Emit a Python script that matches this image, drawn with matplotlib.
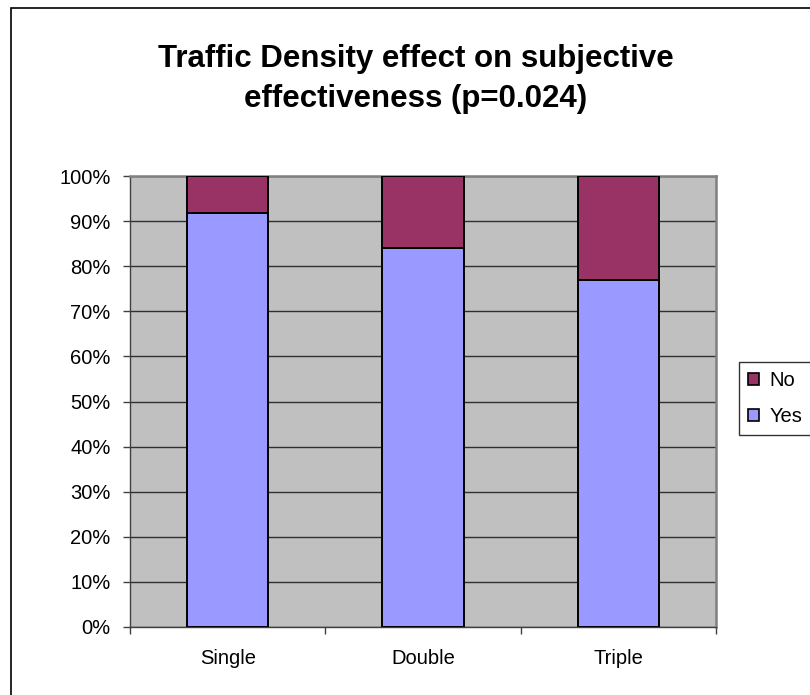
import matplotlib.pyplot as plt
from matplotlib.patches import Rectangle
from matplotlib.ticker import PercentFormatter, FixedLocator

plt.rcParams["font.family"] = "Liberation Sans"

# data (percent of responses)
categories = ["Single", "Double", "Triple"]
yes_pct = [91.7, 84.0, 76.9]
no_pct = [8.3, 16.0, 23.1]

W, H = 810, 695
fig = plt.figure(figsize=(W / 100, H / 100), dpi=100)
fig.patch.set_facecolor("white")

# chart outer border (right and bottom run off the picture)
fig.patches.append(Rectangle((11 / W, -0.1), 1.2, 1.1 - 8 / H,
                             transform=fig.transFigure, fill=False,
                             edgecolor="black", linewidth=1.2, zorder=0))

ax = fig.add_axes([130 / W, 1 - 627 / H, 586 / W, 451 / H])
ax.set_facecolor("#C0C0C0")

x = range(len(categories))
ax.bar(x, yes_pct, width=0.415, color="#9999FF", edgecolor="black",
       linewidth=1.4, label="Yes", zorder=3)
ax.bar(x, no_pct, bottom=yes_pct, width=0.415, color="#993366",
       edgecolor="black", linewidth=1.4, label="No", zorder=3)

ax.set_xlim(-0.5, 2.5)
ax.set_ylim(0, 100)
ax.set_yticks(range(0, 101, 10))
ax.yaxis.set_major_formatter(PercentFormatter(decimals=0))
ax.set_xticks(list(x))
ax.set_xticklabels(categories, fontsize=14.5)
ax.tick_params(axis="y", labelsize=14.5, length=5, width=1, color="#404040", pad=9)
ax.tick_params(axis="x", length=0, pad=16)
# category boundary tick marks
ax.xaxis.set_minor_locator(FixedLocator([-0.5, 0.5, 1.5, 2.5]))
ax.tick_params(axis="x", which="minor", length=5, width=1, color="#404040")

ax.grid(axis="y", color="#303030", linewidth=1.0, zorder=1)
ax.set_axisbelow(True)

for side in ["left", "bottom"]:
    ax.spines[side].set_color("#404040")
    ax.spines[side].set_linewidth(1.0)
for side in ["top", "right"]:
    ax.spines[side].set_color("#808080")
    ax.spines[side].set_linewidth(1.8)

fig.text(416 / W, 1 - 67 / H, "Traffic Density effect on subjective",
         ha="center", va="baseline", fontsize=22.5, fontweight="bold")
fig.text(416 / W, 1 - 107 / H, "effectiveness (p=0.024)",
         ha="center", va="baseline", fontsize=22.5, fontweight="bold")

handles, labels = ax.get_legend_handles_labels()
leg = fig.legend(handles[::-1], labels[::-1], loc="upper left",
                 bbox_to_anchor=(739 / W, 1 - 362 / H), borderaxespad=0,
                 fontsize=14.5, frameon=True, fancybox=False,
                 handlelength=0.55, handleheight=0.55, handletextpad=0.5,
                 borderpad=0.45, labelspacing=0.85)
leg.get_frame().set_edgecolor("black")
leg.get_frame().set_linewidth(1.0)
for h in leg.legend_handles:
    h.set_linewidth(1.2)

fig.savefig("out.png", dpi=100)
